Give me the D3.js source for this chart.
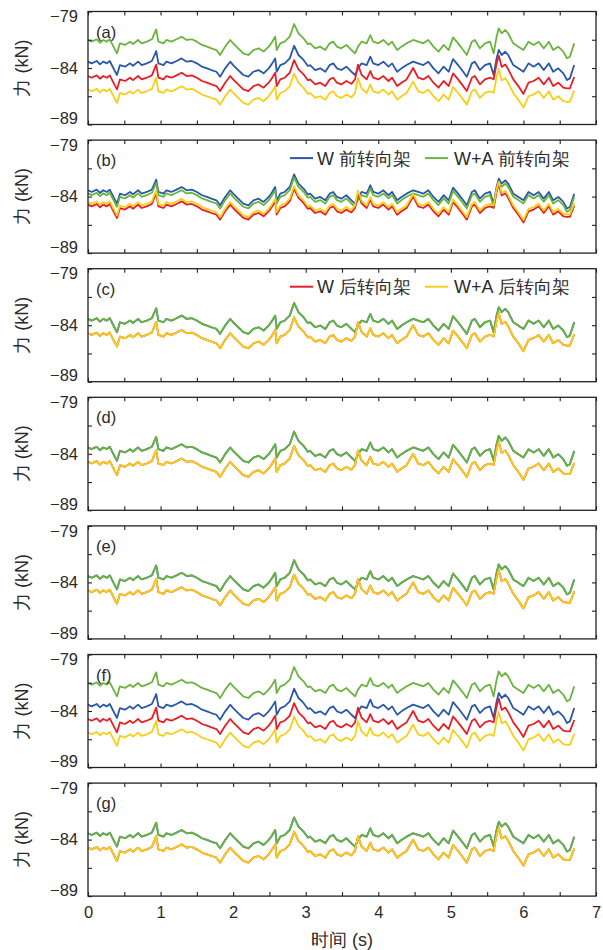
<!DOCTYPE html>
<html>
<head>
<meta charset="utf-8">
<script src="https://cdn.jsdelivr.net/npm/d3@7"></script>
<style>
  body { margin: 0; background: #fff; }
  svg { display: block; }
  text { font-family: "Liberation Sans", Arial, sans-serif; fill: #2a2a2a; }
</style>
</head>
<body>
<svg id="chart" width="603" height="950"></svg>
<script>
// Sample times (s)
const time = [0.00,0.05,0.12,0.165,0.21,0.26,0.30,0.37,0.40,0.44,0.51,0.58,0.62,0.69,0.74,0.81,0.88,0.94,0.97,1.04,
  1.08,1.15,1.22,1.29,1.36,1.43,1.50,1.57,1.64,1.70,1.77,1.82,1.89,1.96,2.00,2.07,2.14,2.21,2.28,2.35,
  2.42,2.49,2.53,2.58,2.60,2.65,2.71,2.78,2.84,2.90,2.97,3.03,3.06,3.13,3.20,3.27,3.33,3.38,3.43,3.49,
  3.56,3.63,3.68,3.72,3.77,3.84,3.89,3.93,4.00,4.07,4.14,4.19,4.26,4.32,4.39,4.48,4.55,4.62,4.69,4.76,
  4.83,4.90,4.97,5.03,5.10,5.17,5.22,5.29,5.33,5.40,5.47,5.54,5.59,5.63,5.66,5.70,5.75,5.79,5.86,5.93,
  6.00,6.07,6.14,6.21,6.28,6.35,6.41,6.48,6.55,6.60,6.64,6.70];

// Vertical force, front bogie, wheel load only (kN)
const frontW = [-83.44,-83.59,-83.38,-83.68,-83.44,-83.59,-83.38,-84.27,-84.62,-83.74,-83.88,-83.59,-83.80,-83.44,-83.74,-83.59,-83.38,-82.50,-83.59,-83.74,
  -83.44,-83.59,-83.38,-83.15,-83.44,-83.38,-83.59,-83.88,-84.03,-84.18,-84.33,-84.77,-84.03,-83.44,-83.74,-84.18,-84.62,-84.77,-84.33,-84.18,
  -84.47,-84.03,-83.68,-83.15,-84.33,-83.74,-83.59,-83.15,-82.03,-82.85,-83.29,-83.82,-83.74,-84.18,-84.03,-84.33,-83.74,-83.59,-84.03,-84.18,
  -83.88,-84.33,-84.62,-84.03,-83.59,-83.74,-83.00,-83.59,-83.74,-83.44,-83.88,-83.59,-84.33,-84.03,-83.74,-83.44,-83.59,-83.74,-83.44,-84.03,
  -84.47,-83.88,-84.33,-83.21,-83.74,-84.33,-84.77,-83.59,-83.44,-84.18,-83.74,-83.59,-84.62,-83.15,-82.41,-82.85,-82.56,-82.85,-83.74,-84.03,
  -84.33,-83.59,-83.88,-83.59,-84.18,-83.59,-84.33,-84.03,-84.47,-85.06,-84.92,-83.74];

// Vertical force, rear bogie, wheel load only (kN)
const rearW = [-84.71,-84.86,-84.65,-84.95,-84.71,-84.86,-84.65,-85.54,-85.89,-85.01,-85.15,-84.86,-85.07,-84.71,-85.01,-84.86,-84.65,-83.70,-84.86,-85.01,
  -84.71,-84.86,-84.65,-84.42,-84.71,-84.65,-84.86,-85.15,-85.30,-85.45,-85.60,-86.04,-85.30,-84.71,-85.01,-85.45,-85.89,-86.04,-85.60,-85.45,
  -85.74,-85.30,-84.95,-84.42,-85.60,-85.01,-84.86,-84.42,-83.30,-84.12,-84.56,-85.09,-85.01,-85.45,-85.30,-85.60,-85.01,-84.86,-85.30,-85.45,
  -85.15,-85.40,-85.00,-83.70,-84.60,-85.01,-84.27,-84.86,-85.01,-84.71,-85.15,-84.86,-85.60,-85.30,-85.01,-84.00,-84.86,-85.01,-84.71,-85.30,
  -85.74,-85.15,-85.60,-84.48,-85.01,-85.60,-86.04,-84.86,-84.71,-85.45,-85.01,-84.86,-85.00,-83.60,-82.90,-83.90,-83.70,-84.10,-85.01,-85.60,
  -86.30,-85.30,-85.15,-84.86,-85.45,-84.86,-85.60,-85.30,-85.74,-85.80,-85.80,-84.80];

// Aerodynamic load increment added to each bogie in each case (kN)
const aeroFront = [1.92, -0.28, 0, 0, 0, 1.92, 0];
const aeroRear  = [-1.20, 0.22, 0, 0, 0, -1.20, 0];

const panelLabels = ["(a)", "(b)", "(c)", "(d)", "(e)", "(f)", "(g)"];
const seriesNames = ["W 前转向架", "W+A 前转向架", "W 后转向架", "W+A 后转向架"];
const seriesColors = ["#2a58a8", "#6ab43e", "#e91d25", "#f6cf16"];
const yTickLabels = [-79, -84, -89];
const yMinorTicks = [-81.5, -86.5];
const xTickLabels = [0, 1, 2, 3, 4, 5, 6, 7];
const xAllTicks = d3.range(0, 7.01, 0.5);

const svg = d3.select("#chart");
const left = 88, right = 596, panelH = 113, firstTop = 11.5, step = 128.6;
const fontSize = "16.5px";

const x = d3.scaleLinear().domain([0, 7]).range([left, right]);

panelLabels.forEach((lab, p) => {
  const top = firstTop + p * step;
  const y = d3.scaleLinear().domain([-89, -79]).range([top + panelH, top]);
  const g = svg.append("g");

  const series = [
    frontW,
    frontW.map(v => v + aeroFront[p]),
    rearW,
    rearW.map(v => v + aeroRear[p])
  ];

  const line = d3.line()
    .x((d, i) => x(time[i]))
    .y(d => y(d))
    .curve(d3.curveLinear);

  series.forEach((vals, k) => {
    g.append("path")
      .datum(vals)
      .attr("d", line)
      .attr("fill", "none")
      .attr("stroke", seriesColors[k])
      .attr("stroke-width", 1.8)
      .attr("stroke-linejoin", "round");
  });

  // Axes with inward ticks
  const yAxisG = g.append("g").attr("transform", `translate(${left},0)`)
    .call(d3.axisLeft(y).tickValues(yTickLabels).tickSizeInner(-4).tickSizeOuter(0).tickPadding(10));
  // end labels sit slightly inside the frame so neighbouring panels stay clear
  yAxisG.selectAll(".tick text")
    .attr("dy", d => d === -79 ? "0.62em" : d === -89 ? "-0.05em" : "0.32em");
  g.append("g").attr("transform", `translate(${left},0)`)
    .call(d3.axisLeft(y).tickValues(yMinorTicks).tickSizeInner(-4).tickSizeOuter(0).tickFormat(""));
  g.append("g").attr("transform", `translate(${right},0)`)
    .call(d3.axisRight(y).tickValues(yMinorTicks.concat([-84])).tickSizeInner(-4).tickSizeOuter(0).tickFormat(""));
  g.append("g").attr("transform", `translate(0,${top})`)
    .call(d3.axisTop(x).tickValues(xAllTicks).tickSizeInner(-4).tickSizeOuter(0).tickFormat(""));
  g.append("g").attr("transform", `translate(0,${top + panelH})`)
    .call(d3.axisBottom(x).tickValues(xAllTicks).tickSizeInner(-4).tickSizeOuter(0).tickPadding(10)
      .tickFormat(d => (p === panelLabels.length - 1 && xTickLabels.includes(d)) ? d : ""));

  g.selectAll(".domain").remove();
  g.selectAll(".tick line").attr("stroke", "#222").attr("stroke-width", 1.1);
  g.selectAll(".tick text").style("font-size", fontSize).attr("fill", "#2a2a2a")
    .style("font-family", '"Liberation Sans", Arial, sans-serif');

  g.append("rect")
    .attr("x", left).attr("y", top)
    .attr("width", right - left).attr("height", panelH)
    .attr("fill", "none").attr("stroke", "#222").attr("stroke-width", 1.3);

  g.append("text").attr("x", 96).attr("y", top + 26)
    .style("font-size", fontSize).text(lab);

  g.append("text")
    .attr("transform", `translate(28,${top + panelH / 2}) rotate(-90)`)
    .attr("text-anchor", "middle")
    .style("font-size", "18px")
    .text("力 (kN)");
});

// Legends: front bogie pair in (b), rear bogie pair in (c)
[[0, 1, 1], [2, 3, 2]].forEach(([a, b, p]) => {
  const yy = firstTop + p * step + 18;
  const items = [[a, 290, 317], [b, 425, 454]];
  items.forEach(([k, lx, tx]) => {
    svg.append("line").attr("x1", lx).attr("x2", lx + 23).attr("y1", yy).attr("y2", yy)
      .attr("stroke", seriesColors[k]).attr("stroke-width", 2);
    svg.append("text").attr("x", tx).attr("y", yy + 6.5)
      .style("font-size", "18px").text(seriesNames[k]);
  });
});

svg.append("text")
  .attr("x", (left + right) / 2).attr("y", 946)
  .attr("text-anchor", "middle")
  .style("font-size", "18px")
  .text("时间 (s)");
</script>
</body>
</html>
